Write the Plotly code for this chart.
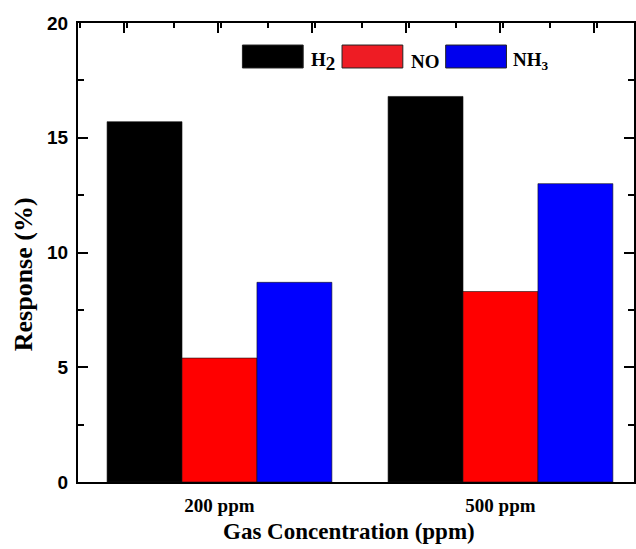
import plotly.graph_objects as go

categories = ["200 ppm", "500 ppm"]
series_names = ["H<sub><span style=\"font-size:19px\">2</span></sub>", "NO", "NH<sub>3</sub>"]
h2_values = [15.7, 16.8]
no_values = [5.4, 8.3]
nh3_values = [8.7, 13.0]
series_values = [h2_values, no_values, nh3_values]
colors = ["#000000", "#ff0000", "#0000ff"]
legend_colors = ["#000000", "#ee1c24", "#0000ee"]

group_pos = [1, 2]
x_range = [0.4965, 2.4752]

SERIF = "Liberation Serif, Times New Roman, serif"
SANS = "Liberation Sans, Arial, sans-serif"

fig = go.Figure()
for name, vals, col in zip(series_names, series_values, colors):
    fig.add_trace(go.Bar(x=group_pos, y=vals, name=name,
                         marker=dict(color=col, line=dict(color="#111111", width=0.6)),
                         showlegend=False))
# invisible trace for the top axis
fig.add_trace(go.Scatter(x=[x_range[0]], y=[0], xaxis="x2", mode="markers", marker=dict(opacity=0),
                         showlegend=False, hoverinfo="skip"))

fig.update_layout(
    width=636, height=549,
    margin=dict(l=78, r=0, t=23, b=67),
    paper_bgcolor="white", plot_bgcolor="white",
    barmode="group", bargap=0.2, bargroupgap=0,
    xaxis=dict(range=x_range, tickvals=group_pos, ticktext=categories, ticks="",
               showline=True, linecolor="black", linewidth=2, showgrid=False, zeroline=False,
               tickfont=dict(family=SERIF, size=19, color="black", weight="bold"), ticklabelstandoff=5),
    xaxis2=dict(overlaying="x", side="top", range=x_range, tick0=0.6596, dtick=0.3348, ticks="inside",
                ticklen=10, tickwidth=2, tickcolor="black", showticklabels=False, showline=True,
                linecolor="black", linewidth=2, showgrid=False, zeroline=False,
                minor=dict(ticks="inside", ticklen=5, tickwidth=2, tickcolor="black", dtick=0.1674)),
    yaxis=dict(range=[0, 20], dtick=5, ticks="inside", ticklen=10, tickwidth=2, tickcolor="black",
               showline=True, linecolor="black", linewidth=2, mirror="ticks", showgrid=False, zeroline=False,
               tickfont=dict(family=SANS, size=19, color="black", weight="bold"), ticklabelstandoff=4,
               minor=dict(ticks="inside", ticklen=6, tickwidth=2, tickcolor="black", dtick=2.5)),
)

# axis titles
fig.add_annotation(text="<b>Response (%)</b>", xref="paper", yref="paper", x=-0.0986, y=0.453,
                   xanchor="center", yanchor="middle",
                   textangle=-90, showarrow=False, font=dict(family=SERIF, size=26, color="black"))
fig.add_annotation(text="<b>Gas Concentration (ppm)</b>", xref="paper", yref="paper", x=0.4875, y=-0.1089,
                   xanchor="center", yanchor="middle",
                   showarrow=False, font=dict(family=SERIF, size=23, color="black"))

# custom legend with large swatches
sw_x0 = [0.2957, 0.4749, 0.6613]
sw_w = 0.1093
txt_x = [0.4158, 0.5950, 0.7796]
for name, col, x0, tx in zip(series_names, legend_colors, sw_x0, txt_x):
    fig.add_shape(type="rect", xref="paper", yref="paper", x0=x0, x1=x0 + sw_w, y0=0.902, y1=0.952,
                  fillcolor=col, line=dict(color="#222222", width=1))
    fig.add_annotation(text="<b>" + name + "</b>", xref="paper", yref="paper", x=tx, y=0.917,
                       xanchor="left", yanchor="middle", showarrow=False,
                       font=dict(family=SERIF, size=19, color="black"))

fig.write_html("out.html")
